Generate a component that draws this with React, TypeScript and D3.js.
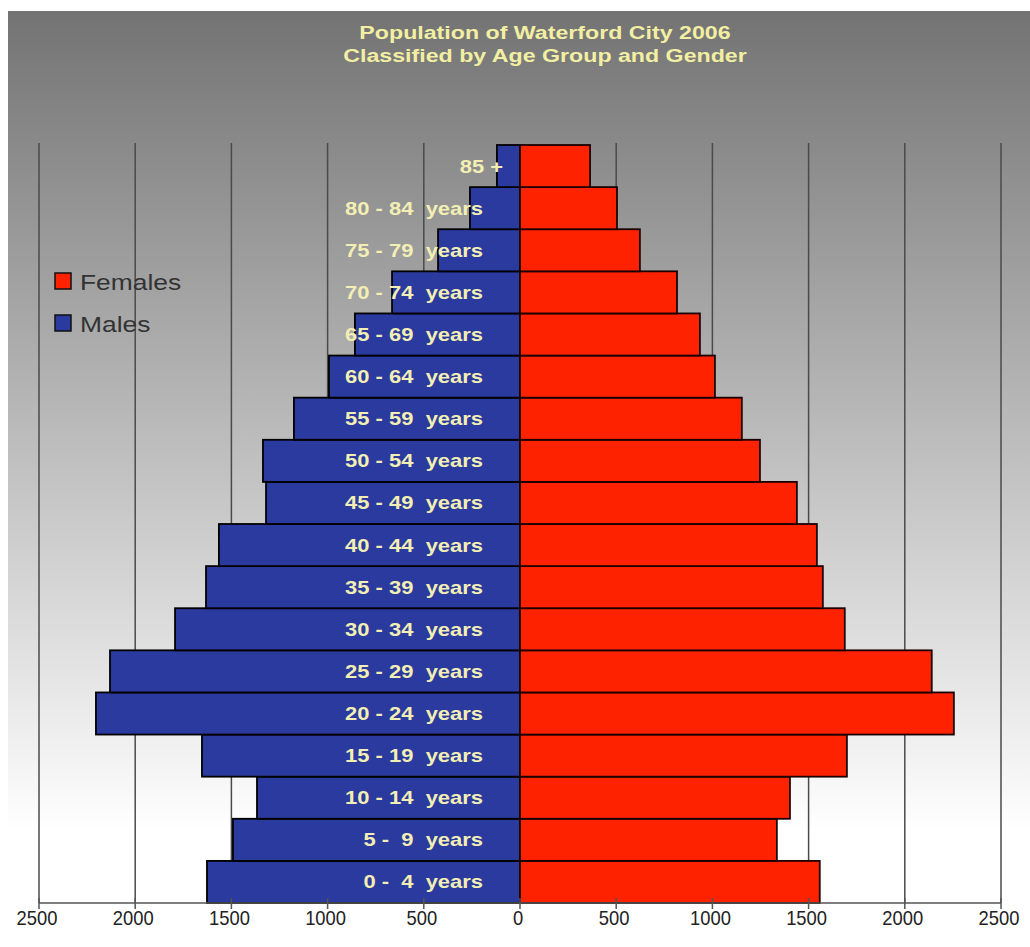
import React from "react";
import * as d3 from "d3";

// Age groups, youngest first
const ageGroups: string[] = [
  "0 -  4  years",
  "5 -  9  years",
  "10 - 14  years",
  "15 - 19  years",
  "20 - 24  years",
  "25 - 29  years",
  "30 - 34  years",
  "35 - 39  years",
  "40 - 44  years",
  "45 - 49  years",
  "50 - 54  years",
  "55 - 59  years",
  "60 - 64  years",
  "65 - 69  years",
  "70 - 74  years",
  "75 - 79  years",
  "80 - 84  years",
  "85 +",
];

const males: number[] = [
  1627, 1492, 1367, 1653, 2204, 2131, 1793, 1632, 1565, 1320, 1336, 1175, 993,
  858, 665, 426, 260, 120,
];

const females: number[] = [
  1558, 1335, 1403, 1699, 2255, 2140, 1688, 1574, 1543, 1439, 1247, 1153, 1013,
  935, 816, 623, 504, 364,
];

const tickValues: number[] = [-2500, -2000, -1500, -1000, -500, 0, 500, 1000, 1500, 2000, 2500];

const titleLines: string[] = [
  "Population of Waterford City 2006",
  "Classified by Age Group and Gender",
];

const legendItems = [
  { name: "Females", color: "#ff2200" },
  { name: "Males", color: "#2b3a9e" },
];

const W = 1030;
const H = 947;
const plot = { left: 39, right: 1001, top: 143, bottom: 903 };
const FONT = "'Liberation Sans', Arial, sans-serif";

export default function App() {
  const x = d3.scaleLinear().domain([-2500, 2500]).range([plot.left, plot.right]);
  const y = d3
    .scaleBand<string>()
    .domain([...ageGroups].reverse())
    .range([plot.top + 2, plot.bottom])
    .padding(0);
  const x0 = x(0);
  const fmt = d3.format("d");

  return (
    <svg
      width={W}
      height={H}
      style={{ position: "absolute", left: 0, top: 0, display: "block" }}
    >
      <defs>
        <linearGradient id="bg" gradientUnits="userSpaceOnUse" x1="0" y1="11" x2="0" y2="830">
          <stop offset="0" stopColor="#737373" />
          <stop offset="1" stopColor="#ffffff" />
        </linearGradient>
      </defs>
      <rect x={0} y={0} width={W} height={H} fill="#ffffff" />
      <rect x={8} y={11} width={W - 8} height={H - 11} fill="url(#bg)" />

      {/* title */}
      {titleLines.map((t, i) => (
        <text
          key={t}
          transform={`translate(545,${39 + i * 23}) scale(1.22,1)`}
          textAnchor="middle"
          fontFamily={FONT}
          fontWeight="bold"
          fontSize={19}
          fill="#f2efa2"
        >
          {t}
        </text>
      ))}

      {/* vertical gridlines */}
      {tickValues
        .filter((v) => v !== 0)
        .map((v) => (
          <line
            key={`g${v}`}
            x1={x(v)}
            x2={x(v)}
            y1={plot.top}
            y2={plot.bottom}
            stroke="#4a4a4a"
            strokeWidth={1.5}
          />
        ))}

      {/* male bars */}
      {ageGroups.map((g, i) => (
        <rect
          key={`m${g}`}
          x={x(-males[i])}
          y={y(g)}
          width={x0 - x(-males[i])}
          height={y.bandwidth()}
          fill="#2b3a9e"
          stroke="#000"
          strokeWidth={1.8}
        />
      ))}

      {/* female bars */}
      {ageGroups.map((g, i) => (
        <rect
          key={`f${g}`}
          x={x0}
          y={y(g)}
          width={x(females[i]) - x0}
          height={y.bandwidth()}
          fill="#ff2200"
          stroke="#1a0000"
          strokeWidth={1.8}
        />
      ))}

      {/* category labels */}
      {ageGroups.map((g) => {
        const endX = g.includes("years") ? x0 - 37 : x0 - 17;
        return (
          <text
            key={`l${g}`}
            transform={`translate(${endX},${(y(g) as number) + y.bandwidth() / 2 + 6.5}) scale(1.22,1)`}
            textAnchor="end"
            fontFamily={FONT}
            fontWeight="bold"
            fontSize={18}
            fill="#f3efb4"
            style={{ whiteSpace: "pre" }}
          >
            {g}
          </text>
        );
      })}

      {/* horizontal axis */}
      <line
        x1={plot.left}
        x2={plot.right}
        y1={plot.bottom}
        y2={plot.bottom}
        stroke="#555"
        strokeWidth={1.5}
      />
      {tickValues.map((v) => (
        <g key={`t${v}`}>
          <line
            x1={x(v)}
            x2={x(v)}
            y1={plot.bottom - 5}
            y2={plot.bottom + 6}
            stroke="#555"
            strokeWidth={1.5}
          />
          <text
            transform={`translate(${x(v) - 2},925) scale(0.92,1)`}
            textAnchor="middle"
            fontFamily={FONT}
            fontSize={20}
            fill="#222"
          >
            {fmt(Math.abs(v))}
          </text>
        </g>
      ))}

      {/* legend */}
      {legendItems.map((it, i) => (
        <g key={it.name}>
          <rect
            x={55}
            y={273 + i * 42}
            width={16}
            height={16}
            fill={it.color}
            stroke="#111"
            strokeWidth={1.5}
          />
          <text
            transform={`translate(80,${290 + i * 42}) scale(1.2,1)`}
            fontFamily={FONT}
            fontSize={22}
            fill="#333"
          >
            {it.name}
          </text>
        </g>
      ))}
    </svg>
  );
}
